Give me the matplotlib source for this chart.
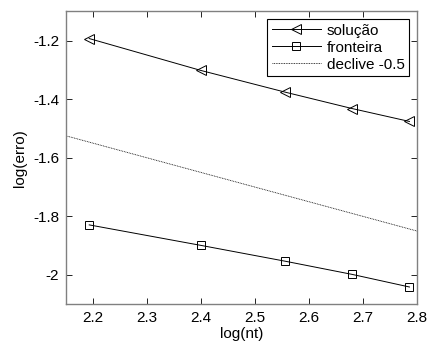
import numpy as np
import matplotlib
matplotlib.use("Agg")
import matplotlib.pyplot as plt

plt.rcParams['font.family'] = ['Liberation Sans', 'DejaVu Sans']

# dados
log_nt = [2.193, 2.400, 2.556, 2.680, 2.786]
erro_solucao = [-1.193, -1.302, -1.376, -1.432, -1.476]
erro_fronteira = [-1.829, -1.899, -1.953, -1.998, -2.041]

# recta de declive -0.5
declive_x = [2.15, 2.80]
declive_y = [-1.525, -1.850]

xticks = [2.2, 2.3, 2.4, 2.5, 2.6, 2.7, 2.8]
yticks = [-2.0, -1.8, -1.6, -1.4, -1.2]
ytick_labels = ['-2', '-1.8', '-1.6', '-1.4', '-1.2']

fig = plt.figure(figsize=(4.3, 3.5), dpi=100)
ax = fig.add_axes([0.1535, 0.1306, 0.8163, 0.8371])

ax.plot(log_nt, erro_solucao, color='k', lw=0.7, marker='<', ms=7.5,
        mfc='none', mec='k', mew=0.7, label='solução', clip_on=False)
ax.plot(log_nt, erro_fronteira, color='k', lw=0.7, marker='s', ms=6,
        mfc='none', mec='k', mew=0.7, label='fronteira', clip_on=False)
ax.plot(declive_x, declive_y, color='k', lw=0.6, ls=(0, (1, 1)),
        label='declive -0.5')

ax.set_xlim(2.15, 2.8)
ax.set_ylim(-2.1, -1.1)
ax.set_xticks(xticks)
ax.set_xticklabels([f'{t:g}' for t in xticks])
ax.set_yticks(yticks)
ax.set_yticklabels(ytick_labels)
ax.tick_params(direction='in', top=True, right=True, length=4, width=0.6,
               labelsize=11, colors='k', pad=5)
for s in ax.spines.values():
    s.set_color('#808080')
    s.set_linewidth(1.0)

ax.set_xlabel('log(nt)', fontsize=11, labelpad=1)
ax.set_ylabel('log(erro)', fontsize=11, labelpad=4)

leg = ax.legend(loc='upper right', fontsize=11, handlelength=3.2,
                handletextpad=0.4, borderpad=0.3, labelspacing=0.2,
                fancybox=False, framealpha=1, borderaxespad=0.5)
leg.get_frame().set_edgecolor('k')
leg.get_frame().set_linewidth(0.8)

fig.savefig('out.png', dpi=100)
